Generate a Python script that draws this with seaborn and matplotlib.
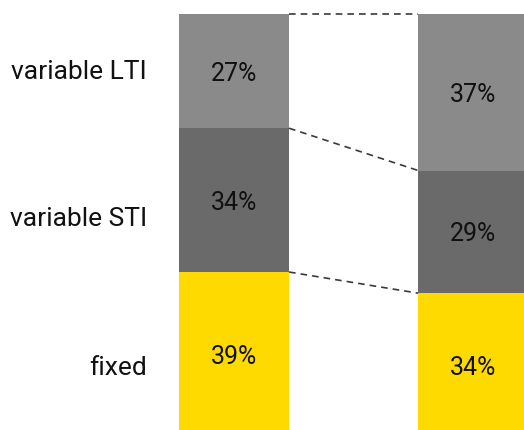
import matplotlib
matplotlib.use("Agg")
import matplotlib.pyplot as plt
import seaborn as sns
import pandas as pd
import numpy as np

# Data
groups = ["A", "B"]
categories = ["fixed", "variable STI", "variable LTI"]  # bottom to top
fixed = [39, 34]
variable_sti = [34, 29]
variable_lti = [27, 37]
colors = {"fixed": "#FFDA00", "variable STI": "#6A6A6A", "variable LTI": "#8A8A8A"}

sns.set_theme(style="white")
plt.rcParams["font.family"] = ["Roboto", "DejaVu Sans"]

fig = plt.figure(figsize=(5.24, 4.30), dpi=100)
ax = fig.add_axes([0, 0, 1, 1])

layers = [fixed, variable_sti, variable_lti]
cum = np.cumsum(np.array(layers), axis=0)  # tops of each layer
bar_w = 0.46

# draw from top-most cumulative down so lower layers overlay
for i in range(len(categories) - 1, -1, -1):
    df = pd.DataFrame({"group": groups, "value": cum[i]})
    sns.barplot(data=df, x="group", y="value", color=colors[categories[i]],
                width=bar_w, linewidth=0, saturation=1, ax=ax)

# labels inside segments
for i, cat in enumerate(categories):
    for j in range(len(groups)):
        bottom = cum[i][j] - layers[i][j]
        mid = bottom + layers[i][j] / 2
        ax.text(j, mid - 0.6, f"{layers[i][j]}%", ha="center", va="center",
                fontsize=18, color="#111111")

# dashed connectors
for i in range(len(categories)):
    ax.plot([bar_w / 2, 1 - bar_w / 2], [cum[i][0], cum[i][1]],
            ls=(0, (4, 3)), color="#3a3a3a", lw=1.2)

# category labels on left
label_y = {"variable LTI": 86.3, "variable STI": 51.6, "fixed": 16.3}
for cat in categories:
    ax.text(-0.365, label_y[cat], cat, ha="right", va="center",
            fontsize=19, color="#111111")

ax.set_xlim(-0.979, 1.213)
ax.set_ylim(1.65, 103.31)
ax.axis("off")
fig.savefig("out.png", dpi=100)
